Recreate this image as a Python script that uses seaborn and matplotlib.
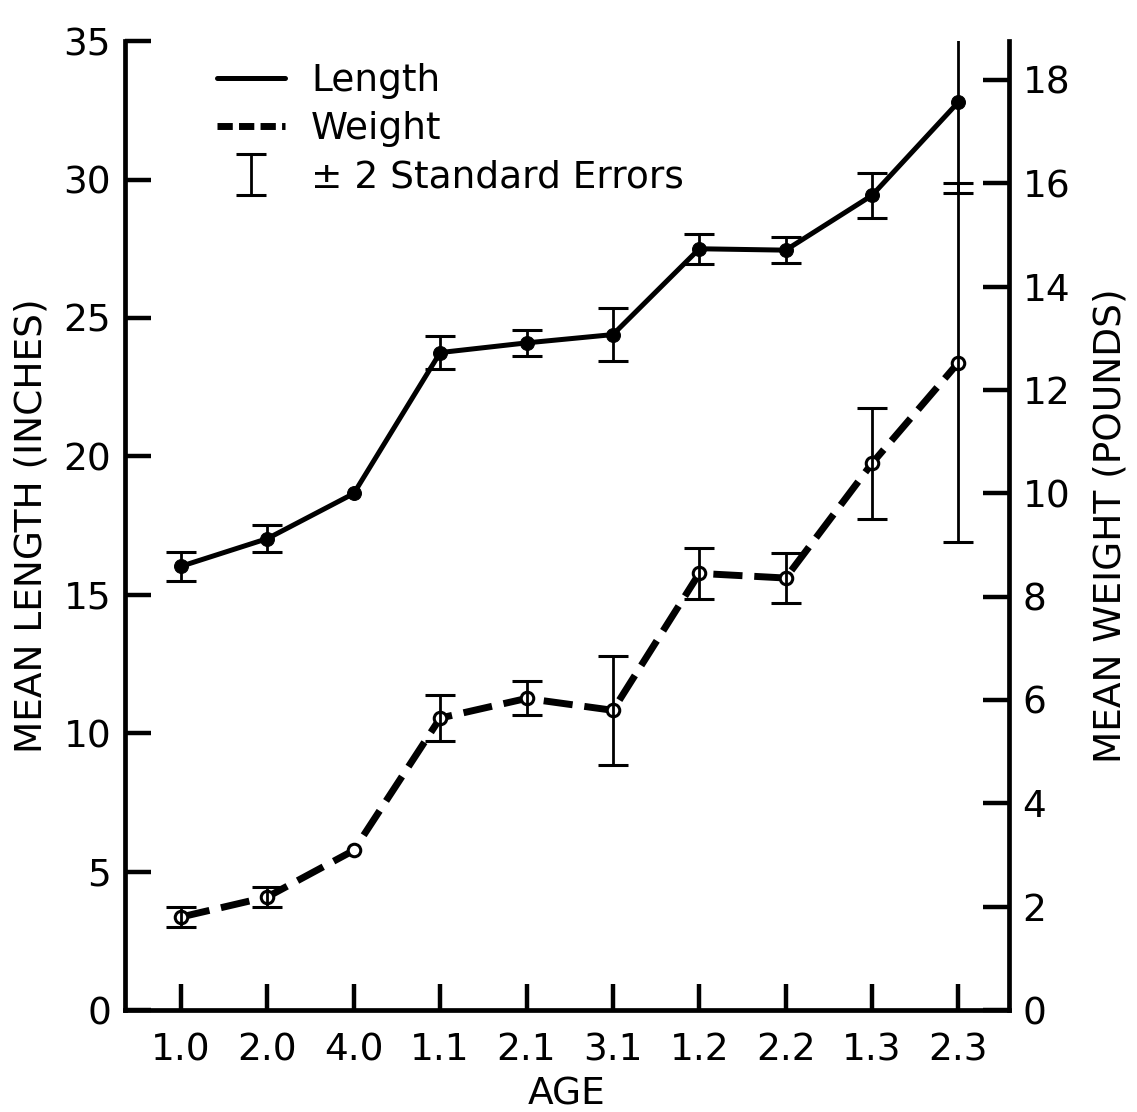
import numpy as np
import pandas as pd
import seaborn as sns
import matplotlib.pyplot as plt
from matplotlib.lines import Line2D
from matplotlib.legend_handler import HandlerErrorbar

ages = ['1.0', '2.0', '4.0', '1.1', '2.1', '3.1', '1.2', '2.2', '1.3', '2.3']
length = [16.03, 17.03, 18.66, 23.75, 24.1, 24.4, 27.5, 27.45, 29.43, 32.8]
length_err = [0.52, 0.48, np.nan, 0.6, 0.47, 0.95, 0.54, 0.47, 0.81, 3.3]
weight = [1.80, 2.19, 3.09, 5.65, 6.03, 5.80, 8.45, 8.36, 10.58, 12.53]
weight_err = [0.19, 0.19, np.nan, 0.44, 0.33, 1.05, 0.49, 0.49, 1.08, 3.48]

df = pd.DataFrame({'pos': np.arange(len(ages)), 'length': length, 'weight': weight})

sns.set_style('ticks', {'text.color': 'k', 'axes.labelcolor': 'k'})
plt.rcParams['font.family'] = ['DejaVu Sans']

fig = plt.figure(figsize=(11.37, 11.12), dpi=100)
ax = fig.add_axes([0.110, 0.0917, 0.777, 0.8713])
ax2 = ax.twinx()

sns.lineplot(data=df, x='pos', y='length', ax=ax, color='k', lw=3.6,
             marker='o', markersize=10, markerfacecolor='k', markeredgecolor='k')
eb = ax.errorbar(df['pos'], df['length'], yerr=length_err, fmt='none', ecolor='k',
                 elinewidth=2, capsize=11, capthick=2.2)

sns.lineplot(data=df, x='pos', y='weight', ax=ax2, color='k', lw=5,
             linestyle=(0, (4.2, 1.7)), marker='o', markersize=9,
             markerfacecolor='white', markeredgecolor='k', markeredgewidth=2.2)
ax2.errorbar(df['pos'], df['weight'], yerr=weight_err, fmt='none', ecolor='k',
             elinewidth=2, capsize=11, capthick=2.2)

ax.set_xlim(-0.648, 9.58)
ax.set_ylim(0, 35)
ax2.set_ylim(0, 18.75)

ax.set_xticks(df['pos'])
ax.set_xticklabels(ages)
ax.set_yticks(range(0, 36, 5))
ax2.set_yticks(range(0, 19, 2))

for a in (ax, ax2):
    a.tick_params(direction='in', length=19, width=3.2, labelsize=27, colors='k')
    for s in a.spines.values():
        s.set_linewidth(3.4)
        s.set_color('k')
ax.tick_params(axis='x', pad=16)
ax.tick_params(axis='y', pad=10)
ax2.tick_params(axis='y', pad=10)

ax.spines['top'].set_visible(False)
ax.spines['right'].set_visible(False)
ax2.spines['top'].set_visible(False)
ax2.spines['left'].set_visible(False)
ax2.spines['bottom'].set_visible(False)

ax.set_xlabel('AGE', fontsize=27, labelpad=6, color='k')
ax.set_ylabel('MEAN LENGTH (INCHES)', fontsize=27, labelpad=10, color='k')
ax2.set_ylabel('MEAN WEIGHT (POUNDS)', fontsize=27, labelpad=16, color='k')

handles = [Line2D([], [], color='k', lw=3.6),
           Line2D([], [], color='k', lw=5, linestyle=(0, (2.2, 0.9))),
           eb]
labels = ['Length', 'Weight', '\u00b1 2 Standard Errors']
leg = ax.legend(handles, labels, loc='upper left', bbox_to_anchor=(0.066, 1.012),
                frameon=False, fontsize=27, handlelength=1.8, handletextpad=0.7,
                labelspacing=0.32, handler_map={eb: HandlerErrorbar(yerr_size=0.55)})
for t in leg.get_texts():
    t.set_color('k')

fig.savefig('out.png', dpi=100)
